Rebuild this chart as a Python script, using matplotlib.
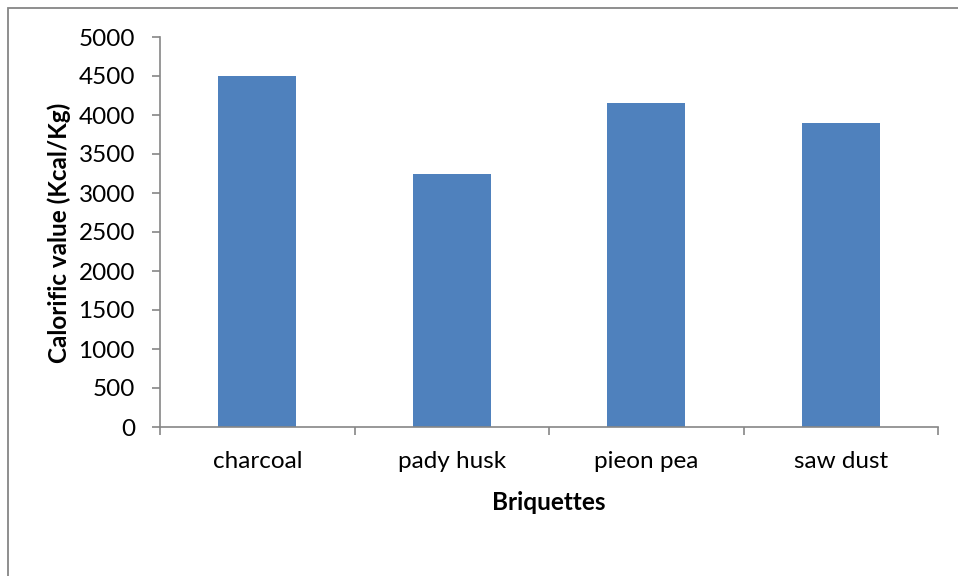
import matplotlib
matplotlib.use("Agg")
import matplotlib.pyplot as plt
from matplotlib.patches import Rectangle
import numpy as np

categories = ["charcoal", "pady husk", "pieon pea", "saw dust"]
values = [4500, 3250, 4150, 3900]
yticks = [0, 500, 1000, 1500, 2000, 2500, 3000, 3500, 4000, 4500, 5000]

W, H = 958, 576
fig = plt.figure(figsize=(W / 100, H / 100), dpi=100)
plt.rcParams['font.family'] = ['Lato', 'DejaVu Sans']
FS = 17.5

# chart area border (extends beyond right/bottom edges)
fig.patches.append(Rectangle((8 / W, -0.1), 1.2, 1 - 8 / H + 0.1, transform=fig.transFigure,
                             fill=False, edgecolor='#868686', linewidth=1.3))

ax = fig.add_axes([160 / W, 1 - 427 / H, (938 - 160) / W, (427 - 37) / H])
x = np.arange(len(categories))
ax.bar(x, values, width=0.4, color='#4F81BD', zorder=2)
ax.set_xlim(-0.5, len(categories) - 0.5)
ax.set_ylim(0, 5000)
ax.set_yticks(yticks)
ax.set_yticklabels([str(v) for v in yticks], fontsize=FS)
ax.set_xticks(np.arange(-0.5, len(categories), 1.0))
ax.set_xticklabels([])
ax.set_xticks(x, minor=True)
ax.set_xticklabels(categories, minor=True, fontsize=FS)
ax.tick_params(axis='x', which='minor', length=0, pad=17)
ax.tick_params(axis='x', which='major', length=6, color='#868686', width=1.2)
ax.tick_params(axis='y', length=6, color='#868686', width=1.2, pad=12)
for s in ['top', 'right']:
    ax.spines[s].set_visible(False)
for s in ['left', 'bottom']:
    ax.spines[s].set_color('#868686')
    ax.spines[s].set_linewidth(1.2)

fig.text(59 / W, 1 - 233 / H, "Calorific value (Kcal/Kg)", fontsize=FS, fontweight='bold',
         rotation=90, ha='center', va='center')
fig.text(549 / W, 1 - 503 / H, "Briquettes", fontsize=FS, fontweight='bold',
         ha='center', va='center')

fig.savefig("out.png", dpi=100)
